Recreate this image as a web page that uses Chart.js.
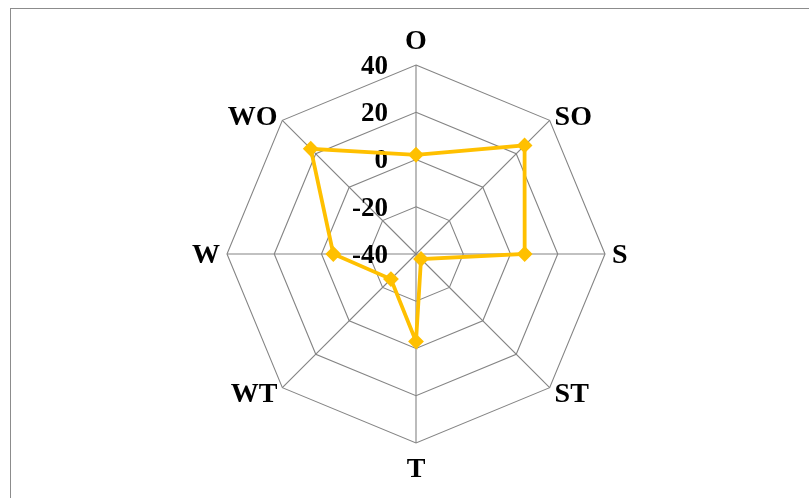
<!DOCTYPE html>
<html>
<head>
<meta charset="utf-8">
<script src="https://cdn.jsdelivr.net/npm/chart.js@4"></script>
<style>
  html, body { margin: 0; padding: 0; background: #fff; }
  #wrap { position: relative; width: 809px; height: 498px; overflow: hidden; }
  #frame { position: absolute; left: 10px; top: 8px; width: 900px; height: 600px;
           border-left: 1px solid #8c8c8c; border-top: 1px solid #8c8c8c; }
  canvas { position: absolute; left: 0; top: 0; }
</style>
</head>
<body>
<div id="wrap">
  <div id="frame"></div>
  <canvas id="c" width="809" height="498"></canvas>
</div>
<script>
// Compass directions, clockwise from the top
const directions = ['O', 'SO', 'S', 'ST', 'T', 'WT', 'W', 'WO'];
// Values per direction
const values = [2, 25, 6, -37, -3, -25, -5, 23];
// Radial scale
const scaleMin = -40;
const scaleMax = 40;
const scaleStep = 20;

const GRID = '#848484';
const GOLD = '#FFC000';
const FONT_FAMILY = '"Liberation Serif", "Times New Roman", serif';

// Tick labels sit left of the vertical axis, right-aligned
const radialLabels = {
  id: 'radialLabels',
  beforeDatasetsDraw(chart) {
    const s = chart.scales.r;
    const ctx = chart.ctx;
    ctx.save();
    ctx.fillStyle = '#000';
    ctx.font = 'bold 27px ' + FONT_FAMILY;
    ctx.textAlign = 'right';
    ctx.textBaseline = 'middle';
    s.ticks.forEach(t => {
      const d = s.getDistanceFromCenterForValue(t.value);
      ctx.fillText(String(t.value), s.xCenter - 28, s.yCenter - d + 2);
    });

    // Direction labels around the outer ring
    ctx.font = 'bold 28px ' + FONT_FAMILY;
    directions.forEach((lab, i) => {
      const p = s.getPointPosition(i, s.drawingArea);
      const dx = p.x - s.xCenter;
      let x, y;
      if (Math.abs(dx) < 1) {
        const q = s.getPointPosition(i, s.drawingArea + 25);
        x = q.x; y = q.y;
        ctx.textAlign = 'center';
      } else {
        const q = s.getPointPosition(i, s.drawingArea + 7);
        x = q.x; y = q.y;
        ctx.textAlign = dx > 0 ? 'left' : 'right';
      }
      ctx.textBaseline = 'middle';
      ctx.fillText(lab, x, y + 2);
    });
    ctx.restore();
  }
};

new Chart(document.getElementById('c'), {
  type: 'radar',
  data: {
    labels: directions,
    datasets: [{
      data: values,
      borderColor: GOLD,
      backgroundColor: GOLD,
      borderWidth: 3.8,
      fill: false,
      pointStyle: 'rectRot',
      pointRadius: 6.5,
      pointBorderWidth: 2,
      pointBackgroundColor: GOLD,
      pointBorderColor: GOLD,
      tension: 0
    }]
  },
  options: {
    responsive: false,
    animation: false,
    devicePixelRatio: 1,
    layout: { padding: { top: 65, bottom: 54, left: 100, right: 77 } },
    plugins: { legend: { display: false }, tooltip: { enabled: false } },
    scales: {
      r: {
        min: scaleMin,
        max: scaleMax,
        ticks: { stepSize: scaleStep, display: false },
        grid: { color: GRID, lineWidth: 1.1, circular: false },
        angleLines: { color: GRID, lineWidth: 1.1 },
        pointLabels: { display: false }
      }
    }
  },
  plugins: [radialLabels]
});
</script>
</body>
</html>
